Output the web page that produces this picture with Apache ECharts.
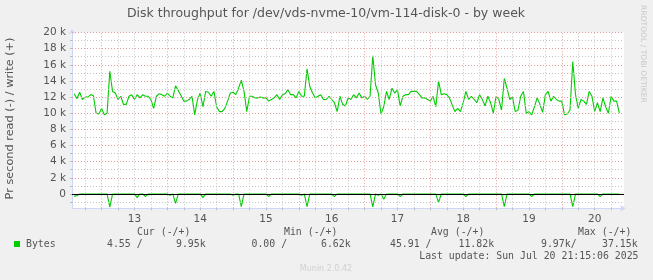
<!DOCTYPE html>
<html><head><meta charset="utf-8">
<script src="https://cdn.jsdelivr.net/npm/echarts@6/dist/echarts.min.js"></script>
<style>html,body{margin:0;padding:0;background:#f0f0f0}#c{width:653px;height:280px}</style>
</head><body><div id="c"></div>
<script>
// hours relative to Sun Jul 13 00:00, one sample per hour
const startHour = -10;
const dayLabels = ['13','14','15','16','17','18','19','20'];
const dayCentres = [12, 36, 60, 84, 108, 132, 156, 180];
const yTickValues = [0, 2000, 4000, 6000, 8000, 10000, 12000, 14000, 16000, 18000, 20000];
const yTickLabels = ['0','2 k','4 k','6 k','8 k','10 k','12 k','14 k','16 k','18 k','20 k'];
// write bytes/s (thousands)
const writeK = [
  12.4, 11.8, 12.6, 11.7, 12.0, 12.0, 12.3, 12.2, 10.0, 9.9,
  10.6, 9.8, 10.0, 15.2, 12.7, 12.5, 11.7, 12.1, 11.1, 11.1, 12.1, 12.3, 11.7, 12.3, 11.9, 12.3, 12.1, 12.1, 11.7, 10.6, 12.1, 12.4, 12.3, 12.1,
  12.5, 12.1, 11.9, 13.4, 12.8, 12.2, 11.5, 11.5, 11.7, 12.1, 9.8, 11.7, 12.5, 10.8, 12.7, 12.6, 12.1, 12.7, 10.8, 10.2, 10.2, 10.6, 11.5, 12.5,
  12.6, 12.3, 13.1, 14.1, 12.7, 10.2, 12.1, 12.1, 11.9, 11.9, 12.0, 11.9, 11.9, 11.5, 11.7, 11.9, 12.3, 11.7, 12.3, 12.4, 12.9, 12.3, 12.3, 11.9,
  12.7, 12.1, 12.1, 15.5, 13.3, 12.5, 11.9, 12.1, 12.3, 11.7, 11.7, 12.1, 11.7, 11.3, 10.2, 12.1, 11.1, 10.9, 11.9, 11.7, 12.3, 11.9, 12.5, 11.9,
  12.1, 11.7, 12.1, 17.1, 13.5, 12.5, 9.9, 10.8, 12.7, 11.7, 13.1, 12.5, 12.9, 10.9, 12.1, 12.3, 12.3, 12.7, 12.7, 12.7, 12.3, 11.9, 11.9, 11.7,
  11.5, 12.1, 10.8, 14.0, 12.3, 12.4, 12.3, 11.9, 11.0, 10.2, 10.6, 10.2, 11.3, 12.7, 11.7, 12.1, 11.7, 11.3, 12.3, 11.7, 10.9, 12.1, 11.3, 10.0,
  12.1, 11.7, 10.4, 14.3, 13.1, 11.7, 12.0, 10.2, 10.4, 12.1, 12.7, 10.0, 10.2, 9.8, 10.8, 11.9, 11.1, 10.1, 12.3, 12.7, 11.5, 12.1, 11.7, 11.5,
  11.5, 9.8, 9.9, 10.4, 16.4, 12.3, 10.6, 11.7, 11.5, 11.1, 12.7, 12.1, 10.2, 11.3, 10.2, 11.9, 10.8, 10.0, 12.1, 11.5, 11.5, 10.0
];
// read bytes/s (thousands, drawn negative)
const readK = [
  -0.3, -0.2, 0, 0, 0, 0, 0, 0, 0, 0,
  0, 0, 0, -1.65, 0, 0, 0, 0, 0, 0, 0, 0, 0, -0.45, 0, 0, -0.33, 0, 0, 0, 0, 0, 0, 0,
  0, -0.15, 0, -1.16, 0, 0, 0, 0, 0, 0, 0, 0, 0, -0.45, 0, 0, 0, 0, 0, 0, 0, 0, 0, 0,
  -0.15, 0, 0, -1.57, 0, 0, 0, 0, 0, 0, 0, 0, 0, -0.33, 0, 0, 0, 0, 0, 0, 0, 0, 0, 0,
  0, -0.15, 0, -1.57, 0, 0, 0, 0, 0, 0, 0, 0, 0, -0.33, 0, 0, 0, 0, 0, 0, 0, 0, 0, 0,
  0, 0, 0, -1.6, 0, -0.15, 0, -0.66, 0, 0, 0, 0, 0, -0.33, 0, 0, 0, 0, 0, 0, 0, 0, 0, 0,
  0, 0, 0, -1.08, 0, 0, 0, 0, 0, 0, 0, 0, 0, -0.33, 0, 0, 0, 0, 0, 0, 0, 0, 0, 0,
  0, 0, 0, -1.57, 0, 0, 0, 0, 0, 0, 0, 0, 0, -0.33, 0, 0, 0, 0, 0, 0, 0, 0, 0, 0,
  0, 0, 0, 0, -1.57, 0, 0, 0, 0, 0, 0, 0, 0, 0, -0.33, 0, 0, 0, 0, 0, 0, 0
];
const legendHeaders = ['Cur (-/+)', 'Min (-/+)', 'Avg (-/+)', 'Max (-/+)'];
const legendValues = ['4.55 /', '9.95k', '0.00 /', '6.62k', '45.91 /', '11.82k', '9.97k/', '37.15k'];
const lastUpdate = 'Last update: Sun Jul 20 21:15:06 2025';

const writeData = writeK.map((v, i) => [startHour + i, v * 1000]);
const readData = readK.map((v, i) => [startHour + i, v * 1000]);

// grid positions
const xMajor = [], xMinor = [];
for (let h = -6; h <= 186; h += 6) { (h % 24 === 0 ? xMajor : xMinor).push(h); }
const yMajor = [], yMinor = [];
for (let v = -1000; v <= 20000; v += 1000) { if (v === 0) continue; (v % 2000 === 0 ? yMajor : yMinor).push(v); }
const yTicks = []; for (let v = -1000; v <= 20000; v += 1000) yTicks.push(v);
const xTicks = xMajor.concat(xMinor);

const minorStyle = { color: '#c4c4c4', width: 1, type: [1, 2] };
const majorStyle = { color: '#e2a0a0', width: 1, type: [1, 2] };
const gridLines = []
  .concat(xMinor.map(v => ({ xAxis: v, lineStyle: minorStyle })))
  .concat(yMinor.map(v => ({ yAxis: v, lineStyle: minorStyle })))
  .concat(xMajor.map(v => ({ xAxis: v, lineStyle: majorStyle })))
  .concat(yMajor.map(v => ({ yAxis: v, lineStyle: majorStyle })));

const GREEN = '#00cc00';
const AXIS = '#cfd6f8';
const MONO = '9.85px "DejaVu Sans Mono"';
const headerX = [137, 284, 431, 578];
const valueX = [107, 176, 251.5, 321, 390, 458.5, 541, 602];

const chart = echarts.init(document.getElementById('c'), null, { renderer: 'canvas' });
chart.setOption({
  animation: false,
  backgroundColor: '#f0f0f0',
  grid: { left: 72, top: 32.5, width: 552, height: 175.8, show: true, backgroundColor: '#ffffff', borderWidth: 0 },
  xAxis: {
    type: 'value', min: -10.8, max: 190.7,
    axisLine: { show: true, onZero: false, lineStyle: { color: AXIS, width: 1 }, symbol: ['none', 'arrow'], symbolSize: [5, 6], symbolOffset: [0, 2] },
    axisTick: { show: true, customValues: xTicks, length: 2, lineStyle: { color: '#bbbbbb' } },
    axisLabel: { customValues: dayCentres, formatter: v => dayLabels[dayCentres.indexOf(v)], color: '#555', fontFamily: 'DejaVu Sans', fontSize: 10.5, margin: 5 },
    splitLine: { show: false }
  },
  yAxis: {
    type: 'value', min: -1780, max: 20000,
    axisLine: { show: true, onZero: false, lineStyle: { color: AXIS, width: 1 }, symbol: ['none', 'arrow'], symbolSize: [5, 5], symbolOffset: [0, 3.5] },
    axisTick: { show: true, customValues: yTicks, length: 2, lineStyle: { color: '#bbbbbb' } },
    axisLabel: { customValues: yTickValues, formatter: v => yTickLabels[yTickValues.indexOf(v)], color: '#555', fontFamily: 'DejaVu Sans', fontSize: 10.5, margin: 6 },
    splitLine: { show: false }
  },
  series: [
    { type: 'line', z: 1, data: [], silent: true,
      markLine: { silent: true, symbol: 'none', label: { show: false }, animation: false, data: gridLines } },
    { name: 'read', type: 'line', z: 3, data: readData, showSymbol: false, symbol: 'none', lineStyle: { color: GREEN, width: 1.1 }, silent: true },
    { name: 'write', type: 'line', z: 3, data: writeData, showSymbol: false, symbol: 'none', lineStyle: { color: GREEN, width: 1.1 }, silent: true },
    { type: 'line', z: 5, data: [], silent: true,
      markLine: { silent: true, symbol: 'none', label: { show: false }, animation: false, data: [{ yAxis: 0, lineStyle: { color: '#000', width: 1, type: 'solid' } }] } }
  ],
  graphic: [
    { type: 'text', x: 326, y: 14, style: { text: 'Disk throughput for /dev/vds-nvme-10/vm-114-disk-0 - by week', textAlign: 'center', textVerticalAlign: 'middle', font: '12.5px "DejaVu Sans"', fill: '#555' } },
    { type: 'text', x: 10.5, y: 118.5, rotation: Math.PI / 2, style: { text: 'Pr second read (-) / write (+)', textAlign: 'center', textVerticalAlign: 'middle', font: '11.3px "DejaVu Sans"', fill: '#555' } },
    { type: 'text', x: 643, y: 54, rotation: -Math.PI / 2, style: { text: 'RRDTOOL / TOBI OETIKER', textAlign: 'center', textVerticalAlign: 'middle', font: '7.6px "DejaVu Sans"', fill: '#c8c8c8' } },
    ...legendHeaders.map((t, i) => ({ type: 'text', x: headerX[i], y: 232.3, style: { text: t, textAlign: 'left', textVerticalAlign: 'middle', font: MONO, fill: '#555' } })),
    { type: 'rect', shape: { x: 14, y: 241, width: 6, height: 6 }, style: { fill: GREEN } },
    { type: 'text', x: 26, y: 244.3, style: { text: 'Bytes', textAlign: 'left', textVerticalAlign: 'middle', font: MONO, fill: '#555' } },
    ...legendValues.map((t, i) => ({ type: 'text', x: valueX[i], y: 244.3, style: { text: t, textAlign: 'left', textVerticalAlign: 'middle', font: MONO, fill: '#555' } })),
    { type: 'text', x: 638.5, y: 256, style: { text: lastUpdate, textAlign: 'right', textVerticalAlign: 'middle', font: MONO, fill: '#555' } },
    { type: 'text', x: 326, y: 269.3, style: { text: 'Munin 2.0.42', textAlign: 'center', textVerticalAlign: 'middle', font: '8px "DejaVu Sans"', fill: '#d0d0d0' } }
  ]
});
</script></body></html>
